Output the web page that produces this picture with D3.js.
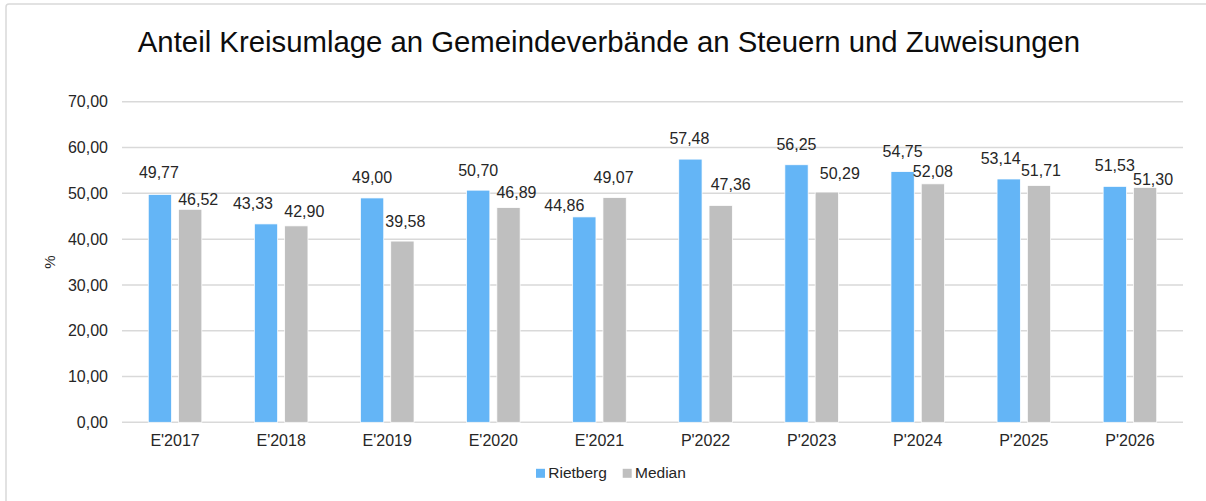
<!DOCTYPE html>
<html><head><meta charset="utf-8">
<script src="https://cdn.jsdelivr.net/npm/d3@7"></script>
<style>
html,body{margin:0;padding:0;background:#fff;}
svg{display:block;font-family:"Liberation Sans",Arial,Helvetica,sans-serif;}
</style></head>
<body>
<svg id="chart" width="1206" height="501"></svg>
<script>
const titleText = "Anteil Kreisumlage an Gemeindeverbände an Steuern und Zuweisungen";
const categories = ["E'2017","E'2018","E'2019","E'2020","E'2021","P'2022","P'2023","P'2024","P'2025","P'2026"];
const seriesNames = ["Rietberg","Median"];
const rietberg = [49.77,43.33,49.00,50.70,44.86,57.48,56.25,54.75,53.14,51.53];
const median = [46.52,42.90,39.58,46.89,49.07,47.36,50.29,52.08,51.71,51.30];
const yTicks = [0,10,20,30,40,50,60,70];
const yAxisTitle = "%";

(function(){
const colors = {"Rietberg":"#64b5f6","Median":"#bfbfbf"};
// label placement tweaks (Excel smart-label layout), px relative to bar center / bar top
const labelLayout = {
  "Rietberg": {dx:[-1,-13,0,0,-20,-1,0,0,-8,0], gap:[16,15,15,14,6,15,15,15,15,15]},
  "Median":   {dx:[8,8,3,8,-1,10,13,0,2,8],     gap:[4,9,14,9.5,15,15,13,7,9.5,2]}
};

const svg = d3.select("#chart");
const fmt = v => v.toFixed(2).replace(".", ",");

// outer border
svg.append("rect").attr("x",6).attr("y",4).attr("width",1210).attr("height",510)
  .attr("rx",3).attr("fill","#fff").attr("stroke","#d9d9d9").attr("stroke-width",1.5);

const pLeft = 122, pRight = 1183, pTop = 101.8, pBottom = 422.3;
const y = d3.scaleLinear().domain([0,70]).range([pBottom, pTop]);
const x0 = d3.scaleBand().domain(categories).range([pLeft,pRight]).paddingInner(0.495).paddingOuter(0.2475);
const x1 = d3.scaleBand().domain(seriesNames).range([0, x0.bandwidth()]).paddingInner(0.231).paddingOuter(0);

// grid
svg.append("g").selectAll("line").data(yTicks).join("line")
  .attr("x1",pLeft).attr("x2",pRight)
  .attr("y1",d=>y(d)).attr("y2",d=>y(d))
  .attr("stroke","#d9d9d9").attr("stroke-width",1.5);

// y tick labels
svg.append("g").selectAll("text").data(yTicks).join("text")
  .attr("x",108).attr("y",d=>y(d)).attr("dy","0.35em")
  .attr("text-anchor","end").attr("font-size",16).attr("fill","#262626")
  .text(d=>fmt(d));

// y axis title
svg.append("text").attr("transform","translate(55,262) rotate(-90)")
  .attr("text-anchor","middle").attr("font-size",15).attr("fill","#262626").text(yAxisTitle);

// x labels
svg.append("g").selectAll("text").data(categories).join("text")
  .attr("x",d=>x0(d)+x0.bandwidth()/2).attr("y",446)
  .attr("text-anchor","middle").attr("font-size",16).attr("fill","#262626")
  .text(d=>d);

const seriesData = {"Rietberg":rietberg,"Median":median};
seriesNames.forEach(s=>{
  const vals = seriesData[s];
  const g = svg.append("g");
  g.selectAll("rect").data(vals).join("rect")
    .attr("x",(d,i)=>x0(categories[i])+x1(s))
    .attr("width",x1.bandwidth())
    .attr("y",d=>y(d)).attr("height",d=>y(0)-y(d))
    .attr("fill",colors[s]).attr("stroke","#fff").attr("stroke-width",0.75);
  const lay = labelLayout[s];
  g.selectAll("text").data(vals).join("text")
    .attr("x",(d,i)=>x0(categories[i])+x1(s)+x1.bandwidth()/2+lay.dx[i])
    .attr("y",(d,i)=>y(d)-lay.gap[i])
    .attr("text-anchor","middle").attr("font-size",16).attr("fill","#262626")
    .text(d=>fmt(d));
});

// title
const t = svg.append("text").attr("x",609).attr("y",52).attr("text-anchor","middle")
  .attr("font-size",27).attr("fill","#0d0d0d").text(titleText);
const w = t.node().getComputedTextLength();
t.attr("font-size", 27*943/w);

// legend
const lg = svg.append("g");
const legX = [536, 622.7];
seriesNames.forEach((s,i)=>{
  lg.append("rect").attr("x",legX[i]).attr("y",468.8).attr("width",9).attr("height",9).attr("fill",colors[s]);
  lg.append("text").attr("x",legX[i]+12.3).attr("y",477.8).attr("font-size",15.5).attr("fill","#262626").text(s);
});
})();
</script>
</body></html>
